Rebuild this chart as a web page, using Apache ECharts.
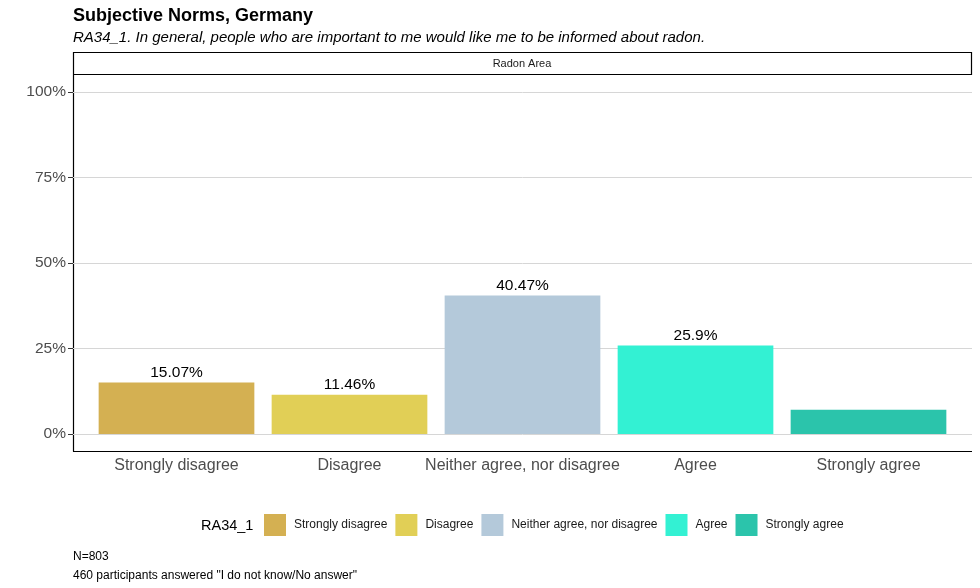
<!DOCTYPE html>
<html>
<head>
<meta charset="utf-8">
<script src="https://cdn.jsdelivr.net/npm/echarts@6/dist/echarts.min.js"></script>
<style>
  html, body { margin: 0; padding: 0; background: #fff; }
  #chart { width: 980px; height: 588px; }
</style>
</head>
<body>
<div id="chart"></div>
<script>
// answer categories and shares (%)
const categories = ['Strongly disagree', 'Disagree', 'Neither agree, nor disagree', 'Agree', 'Strongly agree'];
const shares = [15.07, 11.46, 40.47, 25.9, 7.1];
const labels = ['15.07%', '11.46%', '40.47%', '25.9%', ''];
const colors = ['#D4B052', '#E1CF56', '#B4C9DA', '#33F1D3', '#2BC4AB'];
const yTicks = [0, 25, 50, 75, 100];

const font = 'Liberation Sans, Arial, Helvetica, sans-serif';

let myChart = echarts.init(document.getElementById('chart'));

// one series per answer so the legend gets one key per category
let series = categories.map((name, i) => ({
    name: name,
    type: 'bar',
    stack: 'all',
    xAxisIndex: 1,
    yAxisIndex: 1,
    barWidth: '90%',
    itemStyle: { color: colors[i] },
    label: {
        show: labels[i] !== '',
        position: 'top',
        distance: 2,
        formatter: labels[i],
        color: '#000',
        fontSize: 15.5,
        fontFamily: font
    },
    data: categories.map((c, j) => j === i ? shares[i] : '-')
}));

let option = {
    animation: false,
    backgroundColor: '#fff',
    textStyle: { fontFamily: font },
    grid: [
        { left: 73, right: 8, top: 92, bottom: 154 },
        { left: 90, right: 25, top: 92, bottom: 154 }
    ],
    xAxis: [
        { type: 'value', gridIndex: 0, show: false },
        {
            type: 'category',
            gridIndex: 1,
            data: categories,
            offset: 17,
            axisLine: { show: false },
            axisTick: { alignWithLabel: true, length: 5, lineStyle: { color: '#333' } },
            axisLabel: { interval: 0, fontSize: 16, color: '#4d4d4d', margin: 7, fontFamily: font },
            splitLine: { show: false }
        }
    ],
    yAxis: [
        {
            type: 'value',
            gridIndex: 0,
            min: yTicks[0],
            max: yTicks[yTicks.length - 1],
            interval: 25,
            axisLine: { show: false },
            axisTick: { show: true, length: 5, lineStyle: { color: '#333' } },
            axisLabel: { formatter: '{value}%', fontSize: 15.5, color: '#4d4d4d', margin: 7, fontFamily: font },
            splitLine: { lineStyle: { color: '#d6d6d6', width: 1 } }
        },
        { type: 'value', gridIndex: 1, min: 0, max: 100, show: false }
    ],
    legend: {
        left: 264,
        top: 514,
        padding: 0,
        itemWidth: 22,
        itemHeight: 22,
        itemGap: 8,
        icon: 'rect',
        data: categories,
        selectedMode: false,
        textStyle: { fontSize: 12, color: '#1a1a1a', fontFamily: font, padding: [0, 0, 0, 3] }
    },
    graphic: [
        { type: 'text', left: 73, top: 7, style: { text: 'Subjective Norms, Germany', font: 'bold 18px ' + font, fill: '#000' } },
        { type: 'text', left: 73, top: 30, style: { text: 'RA34_1. In general, people who are important to me would like me to be informed about radon.', font: 'italic 15px ' + font, fill: '#000' } },
        { type: 'rect', shape: { x: 73.5, y: 52.5, width: 898, height: 22 }, style: { fill: '#fff', stroke: '#000', lineWidth: 1.2 } },
        { type: 'text', x: 522, y: 64, style: { text: 'Radon Area', font: '11px ' + font, fill: '#1a1a1a', textAlign: 'center', textVerticalAlign: 'middle' } },
        { type: 'line', shape: { x1: 73.5, y1: 75, x2: 73.5, y2: 451.5 }, style: { stroke: '#000', lineWidth: 1.2 } },
        { type: 'line', shape: { x1: 73, y1: 451.5, x2: 972, y2: 451.5 }, style: { stroke: '#000', lineWidth: 1.2 } },
        { type: 'text', left: 201, top: 518, style: { text: 'RA34_1', font: '14.5px ' + font, fill: '#000' } },
        { type: 'text', left: 73, top: 551, style: { text: 'N=803', font: '12px ' + font, fill: '#000' } },
        { type: 'text', left: 73, top: 570, style: { text: '460 participants answered "I do not know/No answer"', font: '12px ' + font, fill: '#000' } }
    ],
    series: series
};

myChart.setOption(option);
</script>
</body>
</html>
